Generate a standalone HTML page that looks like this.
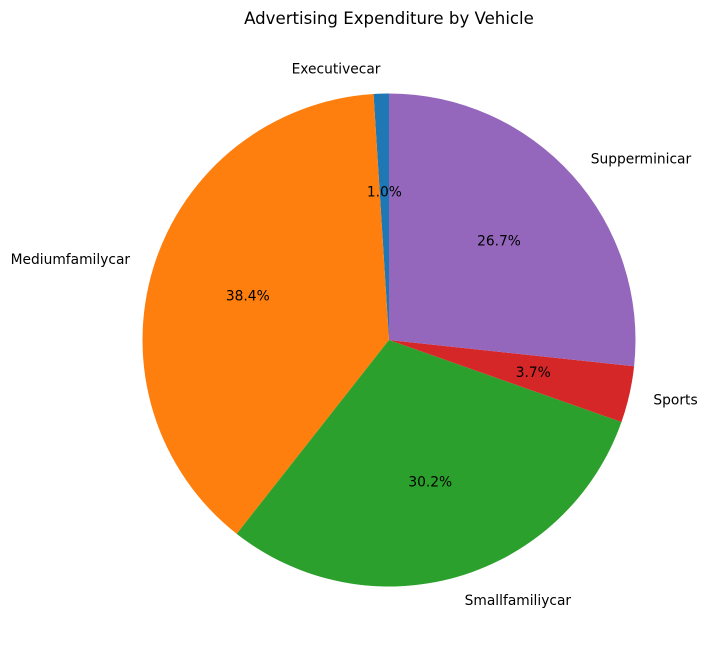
<!DOCTYPE html>
<html><head><meta charset="utf-8"><style>
body{margin:0;background:#fff;}
svg{display:block;font-family:"DejaVu Sans","Liberation Sans",sans-serif;}
</style></head><body>
<svg id="chart" width="708" height="658" viewBox="0 0 708 658">
<text x="389" y="24" text-anchor="middle" font-size="16.6" fill="#000">Advertising Expenditure by Vehicle</text>
<g id="slices"></g>
<g id="labels"></g>
</svg>
<script>
const categories = ["Executivecar","Mediumfamilycar","Smallfamiliycar","Sports","Supperminicar"];
const values = [1.0, 38.4, 30.2, 3.7, 26.7];
const colors = ["#1f77b4","#ff7f0e","#2ca02c","#d62728","#9467bd"];
const cx = 389, cy = 340, r = 246.5;
const g = document.getElementById('slices');
const lg = document.getElementById('labels');
const NS = "http://www.w3.org/2000/svg";
const total = values.reduce((a,b)=>a+b,0);
let ang = 90;
function pt(a, rr){ const t=a*Math.PI/180; return [cx+rr*Math.cos(t), cy-rr*Math.sin(t)]; }
values.forEach((v,i)=>{
  const sweep = v/total*360;
  const a0 = ang, a1 = ang+sweep;
  const [x0,y0]=pt(a0,r), [x1,y1]=pt(a1,r);
  const p=document.createElementNS(NS,'path');
  
  
  p.setAttribute('d',`M${cx},${cy} L${x0},${y0} A${r},${r} 0 ${sweep>180?1:0} 0 ${x1},${y1} Z`);
  p.setAttribute('fill',colors[i]);
  g.appendChild(p);
  const mid=(a0+a1)/2;
  const [lx,ly]=pt(mid,1.1*r);
  const t=document.createElementNS(NS,'text');
  
  
  t.setAttribute('x',lx); t.setAttribute('y',ly+4.5);
  t.setAttribute('font-size','13.8');
  t.setAttribute('text-anchor', lx>=cx?'start':'end');
  t.textContent=categories[i];
  lg.appendChild(t);
  const [px,py]=pt(mid,0.6*r);
  const q=document.createElementNS(NS,'text');
  
  
  q.setAttribute('x',px); q.setAttribute('y',py+4.5);
  q.setAttribute('font-size','13.8');
  q.setAttribute('text-anchor','middle');
  q.textContent=(v/total*100).toFixed(1)+'%';
  lg.appendChild(q);
  ang=a1;
});
</script>
</body></html>
